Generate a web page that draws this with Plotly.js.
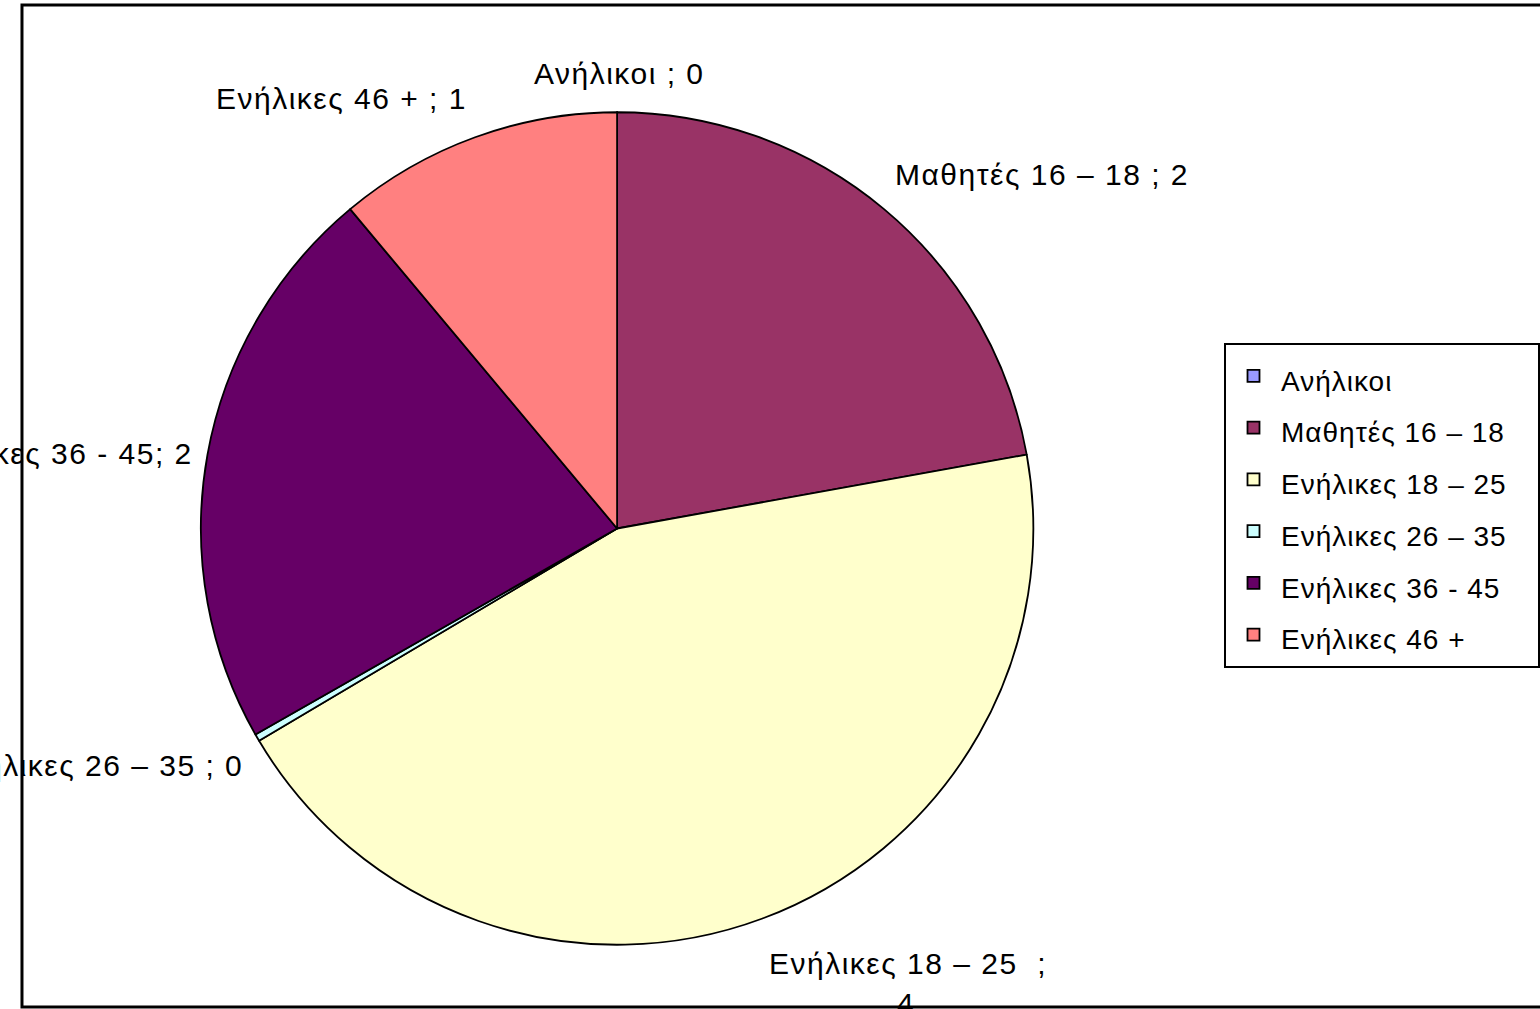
<!DOCTYPE html>
<html>
<head>
<meta charset="utf-8">
<script src="https://cdn.plot.ly/plotly-3.0.1.min.js"></script>
<style>
html,body{margin:0;padding:0;background:#fff;}
#chart{width:1540px;height:1009px;}
.annotation-text{letter-spacing:1.5px;}
.legendtext{letter-spacing:1px;}
</style>
</head>
<body>
<div id="chart"></div>
<script>
// Categories (legend names) and their data-label prefixes as printed on the chart
const categories = ["Ανήλικοι", "Μαθητές 16 – 18", "Ενήλικες 18 – 25", "Ενήλικες 26 – 35", "Ενήλικες 36 - 45", "Ενήλικες 46 +"];
const labelNames = ["Ανήλικοι ", "Μαθητές 16 – 18 ", "Ενήλικες 18 – 25\u00a0 ", "Ενήλικες 26 – 35 ", "Ενήλικες 36 - 45", "Ενήλικες 46 + "];
// Values (26–35 is a tiny sliver that displays as 0)
const values = [0, 2, 4, 0.025, 2, 1];
const colors = ["#9999FF", "#993366", "#FFFFCC", "#CCFFFF", "#660066", "#FF8080"];

const W = 1540, H = 1009;
const px = x => x / W;
const py = y => 1 - y / H;

// label placement (style only); the 18–25 label wraps, its value sits on a second line
const labelPos = [
  {x: 620, y: 74, xa: "center"},
  {x: 1043, y: 175, xa: "center"},
  {x: 909, y: 963, xa: "center", y2: 1003, x2: 907},
  {x: 245, y: 765, xa: "right"},
  {x: 195, y: 453, xa: "right"},
  {x: 342, y: 99, xa: "center"}
];

const labelFont = {family: "Liberation Sans, Arial, sans-serif", size: 30, color: "#000"};
const annotations = [];
categories.forEach((c, i) => {
  const p = labelPos[i];
  const v = Math.round(values[i]);
  const base = {xref: "paper", yref: "paper", showarrow: false, yanchor: "middle", font: labelFont};
  if (p.y2 !== undefined) {
    annotations.push(Object.assign({}, base, {x: px(p.x), y: py(p.y), xanchor: p.xa, text: labelNames[i] + ";"}));
    annotations.push(Object.assign({}, base, {x: px(p.x2), y: py(p.y2), xanchor: "center", text: String(v)}));
  } else {
    annotations.push(Object.assign({}, base, {x: px(p.x), y: py(p.y), xanchor: p.xa, text: labelNames[i] + "; " + v}));
  }
});

const cx = 617.5, cy = 528.5, r = 416.5;

const trace = {
  type: "pie",
  labels: categories.map(c => '<span style="font-size:28px">' + c + '\u00a0\u00a0\u00a0</span>'),
  values: values,
  sort: false,
  direction: "clockwise",
  rotation: 0,
  textinfo: "none",
  hoverinfo: "label+value",
  marker: {colors: colors, line: {color: "#000", width: 1.8}},
  domain: {x: [px(cx - r), px(cx + r)], y: [py(cy + r), py(cy - r)]}
};

const layout = {
  width: W, height: H,
  margin: {l: 0, r: 0, t: 0, b: 0},
  paper_bgcolor: "#fff",
  showlegend: true,
  legend: {
    x: px(1225), y: py(343), xanchor: "left", yanchor: "top",
    bordercolor: "#000", borderwidth: 2, bgcolor: "#fff",
    itemwidth: 45,
    font: {family: "Liberation Sans, Arial, sans-serif", size: 37.5, color: "#000"},
    traceorder: "normal"
  },
  annotations: annotations,
  shapes: [{
    type: "rect", xref: "paper", yref: "paper",
    x0: px(22), x1: px(1560), y0: py(1007), y1: py(5),
    line: {color: "#000", width: 3}, layer: "below"
  }]
};

Plotly.newPlot("chart", [trace], layout, {displayModeBar: false, staticPlot: true});
</script>
</body>
</html>
